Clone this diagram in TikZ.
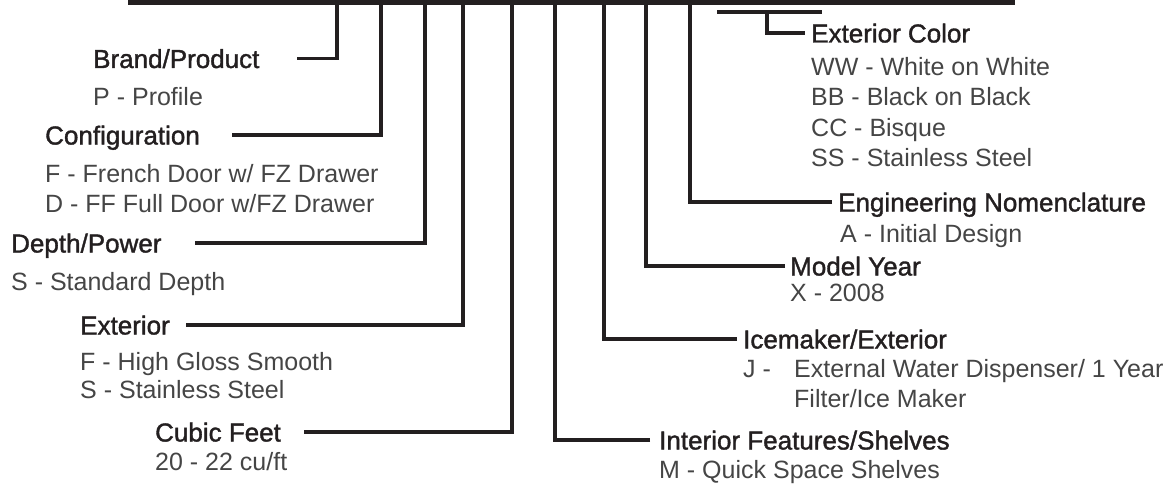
\documentclass[tikz,border=0pt]{standalone}
\usepackage{fontspec}
\setmainfont{Liberation Sans}
\newfontfamily\hfont[FakeBold=1.4]{Liberation Sans}
\definecolor{ink}{HTML}{231F20}
\definecolor{txt}{HTML}{454545}
\tikzset{
  conn/.style={draw=ink, line width=3.3pt, line join=miter},
  head/.style={anchor=base west, inner sep=0pt, font=\hfont\fontsize{26}{26}\selectfont, text=ink},
  item/.style={anchor=base west, inner sep=0pt, font=\fontsize{25}{25}\selectfont, text=txt},
}
\begin{document}
\begin{tikzpicture}[x=1pt,y=-1pt]
\useasboundingbox (0,0) rectangle (1173,487);
% top bar
\node[fill=ink, inner sep=0pt, minimum width=887pt, minimum height=7pt, anchor=south west] (bar) at (128,5) {};
% bar tap points
\coordinate (tBrand) at (337,2);
\coordinate (tConf) at (381,2);
\coordinate (tDepth) at (425,2);
\coordinate (tExt) at (463,2);
\coordinate (tCubic) at (512,2);
\coordinate (tInt) at (555,2);
\coordinate (tIce) at (604,2);
\coordinate (tYear) at (646,2);
\coordinate (tEng) at (690,2);
% line start / end points
\coordinate (sBrand) at (297,58.5);
\coordinate (sConf) at (232,135);
\coordinate (sDepth) at (195,243);
\coordinate (sExt) at (186,325);
\coordinate (sCubic) at (304,432);
\coordinate (eInt) at (650,440);
\coordinate (eIce) at (737,339);
\coordinate (eYear) at (785,266);
\coordinate (eEng) at (832,202);
% exterior colour hook
\coordinate (cA) at (717,12);
\coordinate (cB) at (822,12);
\coordinate (cM) at (767,12);
\coordinate (eCol) at (805,33);

% headings
\node[head] (hBrand) at (93,68) {Brand/Product};
\node[head] (hConf) at (45,144.5) {Configuration};
\node[head] (hDepth) at (11,252.5) {Depth/Power};
\node[head] (hExt) at (80,334.5) {Exterior};
\node[head] (hCubic) at (155,441.5) {Cubic Feet};
\node[head] (hCol) at (811,42.5) {Exterior Color};
\node[head] (hEng) at (838,211.5) {Engineering Nomenclature};
\node[head] (hYear) at (790,275.5) {Model Year};
\node[head] (hIce) at (743,348.5) {Icemaker/Exterior};
\node[head] (hInt) at (659,449.5) {Interior Features/Shelves};

% items
\node[item] (iP) at (93,105) {P - Profile};
\node[item] (iF) at (45,182) {F - French Door w/ FZ Drawer};
\node[item] (iD) at (45,212) {D - FF Full Door w/FZ Drawer};
\node[item] (iS) at (11,290) {S - Standard Depth};
\node[item] (iHG) at (80,370) {F - High Gloss Smooth};
\node[item] (iSS) at (80,398) {S - Stainless Steel};
\node[item] (iCF) at (155,470) {20 - 22 cu/ft};
\node[item] (iWW) at (811,75) {WW - White on White};
\node[item] (iBB) at (811,105) {BB - Black on Black};
\node[item] (iCC) at (811,136) {CC - Bisque};
\node[item] (iSt) at (811,166) {SS - Stainless Steel};
\node[item] (iA) at (840,242) {A - Initial Design};
\node[item] (iX) at (790,301) {X - 2008};
\node[item] (iJ) at (743,377) {J -};
\node[item] (iJ1) at (794,377) {External Water Dispenser/ 1 Year};
\node[item] (iJ2) at (794,407) {Filter/Ice Maker};
\node[item] (iM) at (659,478) {M - Quick Space Shelves};

% connectors
\draw[conn] (sBrand) -| (tBrand);
\draw[conn] (sConf) -| (tConf);
\draw[conn] (sDepth) -| (tDepth);
\draw[conn] (sExt) -| (tExt);
\draw[conn] (sCubic) -| (tCubic);
\draw[conn] (eInt) -| (tInt);
\draw[conn] (eIce) -| (tIce);
\draw[conn] (eYear) -| (tYear);
\draw[conn] (eEng) -| (tEng);
\draw[conn] (cA) -- (cB);
\draw[conn] (cM) |- (eCol);
\end{tikzpicture}
\end{document}
